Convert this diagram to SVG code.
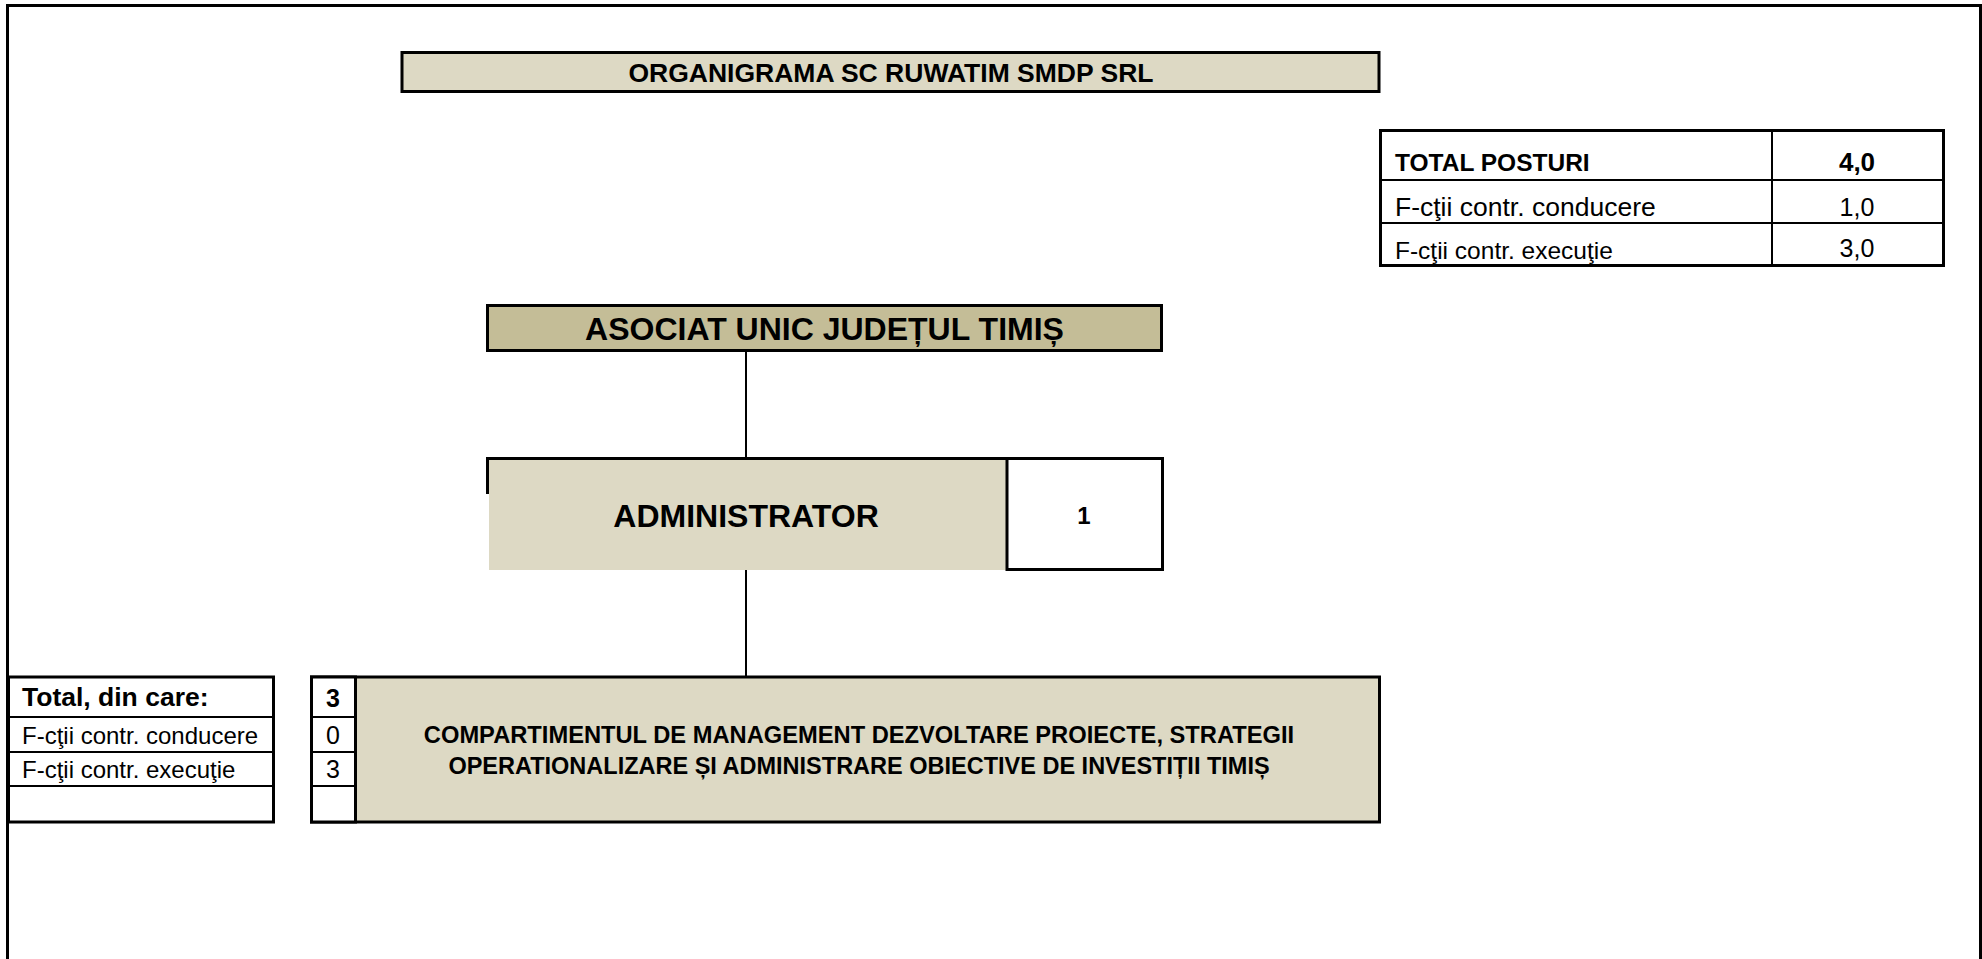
<svg xmlns="http://www.w3.org/2000/svg" width="1982" height="959" viewBox="0 0 1982 959">
<style>
text{font-family:"Liberation Sans",Arial,sans-serif;fill:#000}
.b{font-weight:bold}
.tan{fill:#DDD9C4}
.dark{fill:#C4BD97}
.box{stroke:#000;stroke-width:3}
.thin{stroke:#000;stroke-width:2;fill:none}
.mid{text-anchor:middle}
</style>
<rect x="0" y="0" width="1982" height="959" fill="#fff"/>
<path d="M7.5,959 V5.5 H1980.5 V959" fill="none" stroke="#000" stroke-width="3"/>
<g id="title">
<rect x="402" y="52.5" width="977" height="39" class="tan box"/>
<text x="891" y="82" class="b mid" font-size="26.5">ORGANIGRAMA SC RUWATIM SMDP SRL</text>
</g>
<g id="total-posturi">
<rect x="1380.5" y="130.5" width="563" height="135" fill="#fff" class="box"/>
<line x1="1772" y1="130" x2="1772" y2="265" class="thin"/>
<line x1="1380" y1="180" x2="1944" y2="180" class="thin"/>
<line x1="1380" y1="223" x2="1944" y2="223" class="thin"/>
<text x="1395" y="171" class="b" font-size="24.5">TOTAL POSTURI</text>
<text x="1857" y="171" class="b mid" font-size="26">4,0</text>
<text x="1395" y="216" font-size="26.5">F-cţii contr. conducere</text>
<text x="1857" y="216" class="mid" font-size="25">1,0</text>
<text x="1395" y="259" font-size="24.5">F-cţii contr. execuţie</text>
<text x="1857" y="257" class="mid" font-size="25">3,0</text>
</g>
<g id="asociat">
<rect x="487.5" y="305.5" width="674" height="45" class="dark box"/>
<text x="824.5" y="340" class="b mid" font-size="32">ASOCIAT UNIC JUDEȚUL TIMIȘ</text>
</g>
<g id="administrator">
<rect x="489" y="458" width="518" height="112" class="tan"/>
<path d="M487.5,494 V458.5 H1007" class="box" fill="none"/>
<rect x="1007" y="458.5" width="155.5" height="111" fill="#fff" class="box"/>
<text x="746" y="527" class="b mid" font-size="32">ADMINISTRATOR</text>
<text x="1084" y="524" class="b mid" font-size="24">1</text>
</g>
<g id="left-table">
<rect x="8.5" y="677" width="265" height="145" fill="#fff" class="box"/>
<line x1="8" y1="717" x2="274" y2="717" class="thin"/>
<line x1="8" y1="752" x2="274" y2="752" class="thin"/>
<line x1="8" y1="786" x2="274" y2="786" class="thin"/>
<text x="22" y="706" class="b" font-size="26.5">Total, din care:</text>
<text x="22" y="744" font-size="24">F-cţii contr. conducere</text>
<text x="22" y="778" font-size="24">F-cţii contr. execuţie</text>
</g>
<g id="compartiment">
<rect x="311.5" y="677" width="1068" height="145" class="tan box"/>
<rect x="311.5" y="677" width="44" height="145" fill="#fff" class="box"/>
<line x1="311" y1="717" x2="355" y2="717" class="thin"/>
<line x1="311" y1="752" x2="355" y2="752" class="thin"/>
<line x1="311" y1="786" x2="355" y2="786" class="thin"/>
<text x="333" y="707" class="b mid" font-size="25">3</text>
<text x="333" y="744" class="mid" font-size="25">0</text>
<text x="333" y="778" class="mid" font-size="25">3</text>
<text x="859" y="743" class="b mid" font-size="23.7">COMPARTIMENTUL DE MANAGEMENT DEZVOLTARE PROIECTE, STRATEGII</text>
<text x="859" y="774" class="b mid" font-size="23.5">OPERATIONALIZARE ȘI ADMINISTRARE OBIECTIVE DE INVESTIȚII TIMIȘ</text>
</g>
<g id="connectors">
<line x1="746" y1="351" x2="746" y2="458" class="thin"/>
<line x1="746" y1="570" x2="746" y2="677" class="thin"/>
</g>
</svg>
